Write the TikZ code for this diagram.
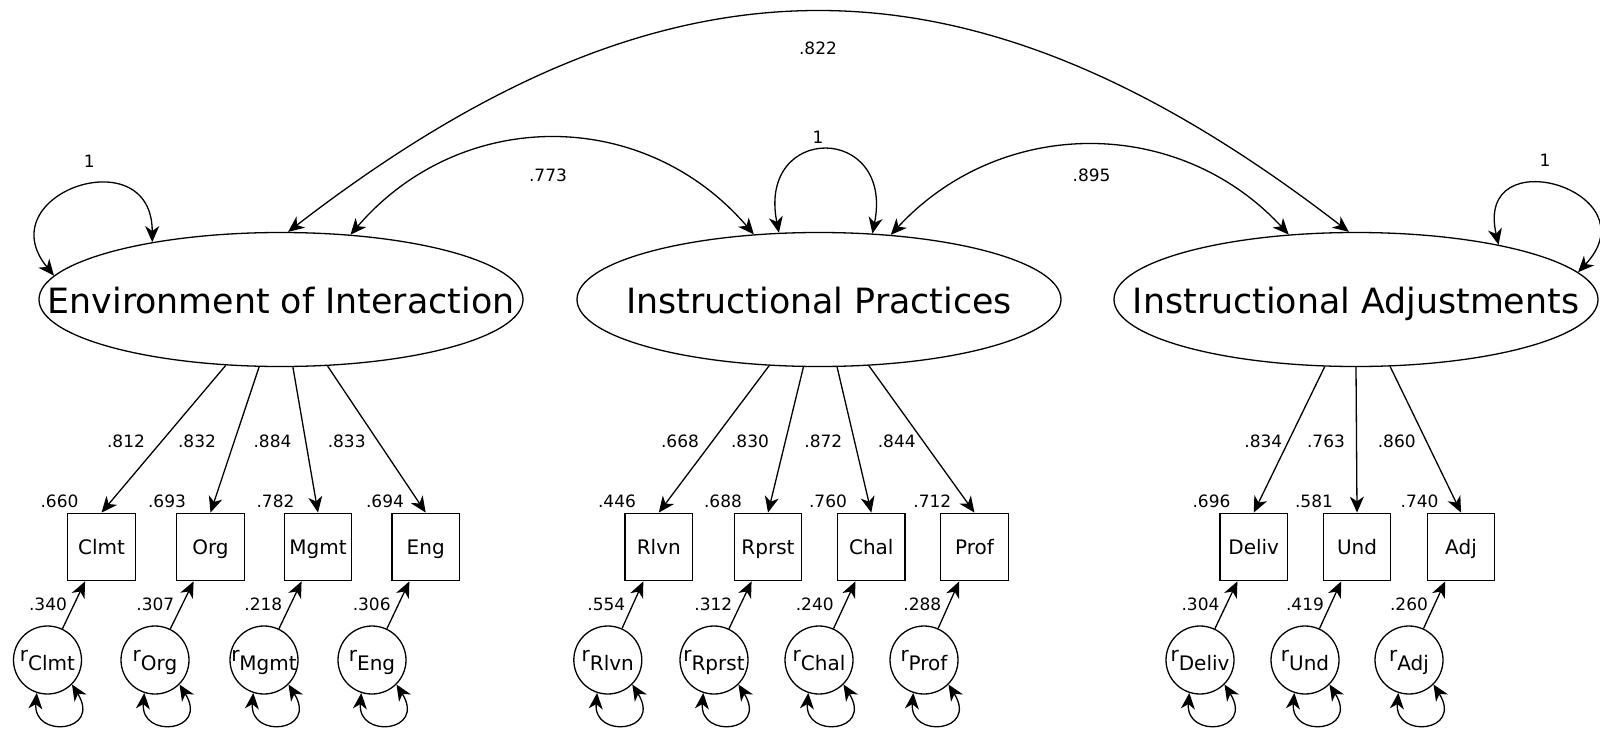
\documentclass[tikz,border=0pt]{standalone}
\usepackage{fontspec}
\setmainfont{DejaVu Sans}
\usetikzlibrary{arrows.meta,shapes.geometric}
\begin{document}
\begin{tikzpicture}[x=0.5pt,y=-0.5pt, line width=0.65pt,
  >={Stealth[length=8pt,width=7pt,inset=2.4pt]},
  latent/.style={draw, ellipse, minimum width=242pt, minimum height=67pt, inner sep=0pt,
    text height=14pt, text depth=0pt, font=\fontsize{17.4}{20}\selectfont},
  obs/.style={draw, rectangle, minimum size=33.75pt, inner sep=0pt,
    text height=7.3pt, text depth=0pt, font=\fontsize{10}{12}\selectfont},
  resid/.style={draw, circle, minimum size=34pt, inner sep=0pt,
    text height=5.5pt, text depth=4.5pt, font=\fontsize{10}{12}\selectfont},
  num/.style={inner sep=0pt, font=\fontsize{8.5}{10}\selectfont}]
\useasboundingbox (0,0) rectangle (1600,728);

% latent variables
\node[latent] (E1) at (281,299.5) {\makebox[0pt]{Environment of Interaction}};
\node[latent] (E2) at (819,299.5) {\makebox[0pt]{Instructional Practices}};
\node[latent] (E3) at (1356,299.5) {\makebox[0pt]{Instructional Adjustments}};

% observed
\node[obs] (Clmt)  at (101.5,547) {Clmt};
\node[obs] (Org)   at (210.5,547) {Org};
\node[obs] (Mgmt)  at (318,547)   {Mgmt};
\node[obs] (Eng)   at (425.7,547) {Eng};
\node[obs] (Rlvn)  at (658.8,547) {Rlvn};
\node[obs] (Rprst) at (768,547)   {Rprst};
\node[obs] (Chal)  at (871.3,547) {Chal};
\node[obs] (Prof)  at (974.5,547) {Prof};
\node[obs] (Deliv) at (1253.7,547) {Deliv};
\node[obs] (Und)   at (1357,547)  {Und};
\node[obs] (Adj)   at (1461,547)  {Adj};

% residuals
\node[resid] (rClmt)  at (47.5,660)  {\makebox[0pt]{r\raisebox{-4.5pt}{Clmt}}};
\node[resid] (rOrg)   at (155,660)   {\makebox[0pt]{r\raisebox{-4.5pt}{Org}}};
\node[resid] (rMgmt)  at (264,660)   {\makebox[0pt]{r\raisebox{-4.5pt}{Mgmt}}};
\node[resid] (rEng)   at (372,660)   {\makebox[0pt]{r\raisebox{-4.5pt}{Eng}}};
\node[resid] (rRlvn)  at (607.8,660) {\makebox[0pt]{r\raisebox{-4.5pt}{Rlvn}}};
\node[resid] (rRprst) at (714,660)   {\makebox[0pt]{r\raisebox{-4.5pt}{Rprst}}};
\node[resid] (rChal)  at (819,660)   {\makebox[0pt]{r\raisebox{-4.5pt}{Chal}}};
\node[resid] (rProf)  at (924,660)   {\makebox[0pt]{r\raisebox{-4.5pt}{Prof}}};
\node[resid] (rDeliv) at (1200,660)  {\makebox[0pt]{r\raisebox{-4.5pt}{Deliv}}};
\node[resid] (rUnd)   at (1305,660)  {\makebox[0pt]{r\raisebox{-4.5pt}{Und}}};
\node[resid] (rAdj)   at (1409,660)  {\makebox[0pt]{r\raisebox{-4.5pt}{Adj}}};

% loadings
\draw[->] (E1.-130.1) -- (Clmt.north);
\draw[->] (E1.-108.0) -- (Org.north);
\draw[->] (E1.-80.1)  -- (Mgmt.north);
\draw[->] (E1.-55.2)  -- (Eng.north);
\draw[->] (E2.-127.2) -- (Rlvn.north);
\draw[->] (E2.-103.2) -- (Rprst.north);
\draw[->] (E2.-75.7)  -- (Chal.north);
\draw[->] (E2.-53.1)  -- (Prof.north);
\draw[->] (E3.-115)   -- (Deliv.north);
\draw[->] (E3.-90)    -- (Und.north);
\draw[->] (E3.-63.6)  -- (Adj.north);

% residual paths and variances
\foreach \o in {Clmt,Org,Mgmt,Eng,Rlvn,Rprst,Chal,Prof,Deliv,Und,Adj}{
  \draw[->] (r\o) -- (\o);
  \draw[<->] (r\o.-108) .. controls +(-4,46) and +(30,48) .. (r\o.-45);
}

% latent variances
\draw[<->] (E1.156.7) .. controls +(0,-105) and +(-67,-82) .. (E1.174.9);
\draw[<->] (E2.121.8) .. controls +(-22,-110) and +(22,-110) .. (E2.51.5);
\draw[<->] (E3.21.6) .. controls +(-25,-108) and +(76,-81) .. (E3.7.7);

% covariances
\draw[<->] (E1.84) .. controls +(380,-293) and +(-380,-293) .. (E3.96.8);
\draw[<->] (E1.43.4) .. controls +(110,-128) and +(-110,-128) .. (E2.135.9);
\draw[<->] (E2.42.6) .. controls +(110,-119) and +(-110,-119) .. (E3.136.6);

% labels: covariances and variances
\node[num] (c822) at (818,48) {.822};
\node[num] (c773) at (548,175) {.773};
\node[num] (c895) at (1091.6,175) {.895};
\node[num] (v1) at (89.3,161.7) {1};
\node[num] (v2) at (818,137) {1};
\node[num] (v3) at (1545,160) {1};

% loading labels
\node[num] (lClmt)  at (126,441.7)   {.812};
\node[num] (lOrg)   at (197,441.7)   {.832};
\node[num] (lMgmt)  at (272.5,441.7) {.884};
\node[num] (lEng)   at (346.7,441.7) {.833};
\node[num] (lRlvn)  at (680,441.7)   {.668};
\node[num] (lRprst) at (750,441.7)   {.830};
\node[num] (lChal)  at (823.3,441.7) {.872};
\node[num] (lProf)  at (896.7,441.7) {.844};
\node[num] (lDeliv) at (1263.3,441.7) {.834};
\node[num] (lUnd)   at (1326,441.7)  {.763};
\node[num] (lAdj)   at (1396.7,441.7) {.860};

% R-squared labels
\node[num] (sClmt)  at (59.5,501)  {.660};
\node[num] (sOrg)   at (167,501)   {.693};
\node[num] (sMgmt)  at (275.5,501) {.782};
\node[num] (sEng)   at (385,501)   {.694};
\node[num] (sRlvn)  at (617,501)   {.446};
\node[num] (sRprst) at (723,501)   {.688};
\node[num] (sChal)  at (828,501)   {.760};
\node[num] (sProf)  at (932.3,501) {.712};
\node[num] (sDeliv) at (1211.5,501) {.696};
\node[num] (sUnd)   at (1314,501)  {.581};
\node[num] (sAdj)   at (1419.5,501) {.740};

% residual path labels
\node[num] (eClmt)  at (48,604)    {.340};
\node[num] (eOrg)   at (155.3,604) {.307};
\node[num] (eMgmt)  at (263.3,604) {.218};
\node[num] (eEng)   at (371.7,604) {.306};
\node[num] (eRlvn)  at (606.3,604) {.554};
\node[num] (eRprst) at (713.3,604) {.312};
\node[num] (eChal)  at (814.7,604) {.240};
\node[num] (eProf)  at (922.3,604) {.288};
\node[num] (eDeliv) at (1200.5,604) {.304};
\node[num] (eUnd)   at (1305,604)  {.419};
\node[num] (eAdj)   at (1409,604)  {.260};
\end{tikzpicture}
\end{document}
